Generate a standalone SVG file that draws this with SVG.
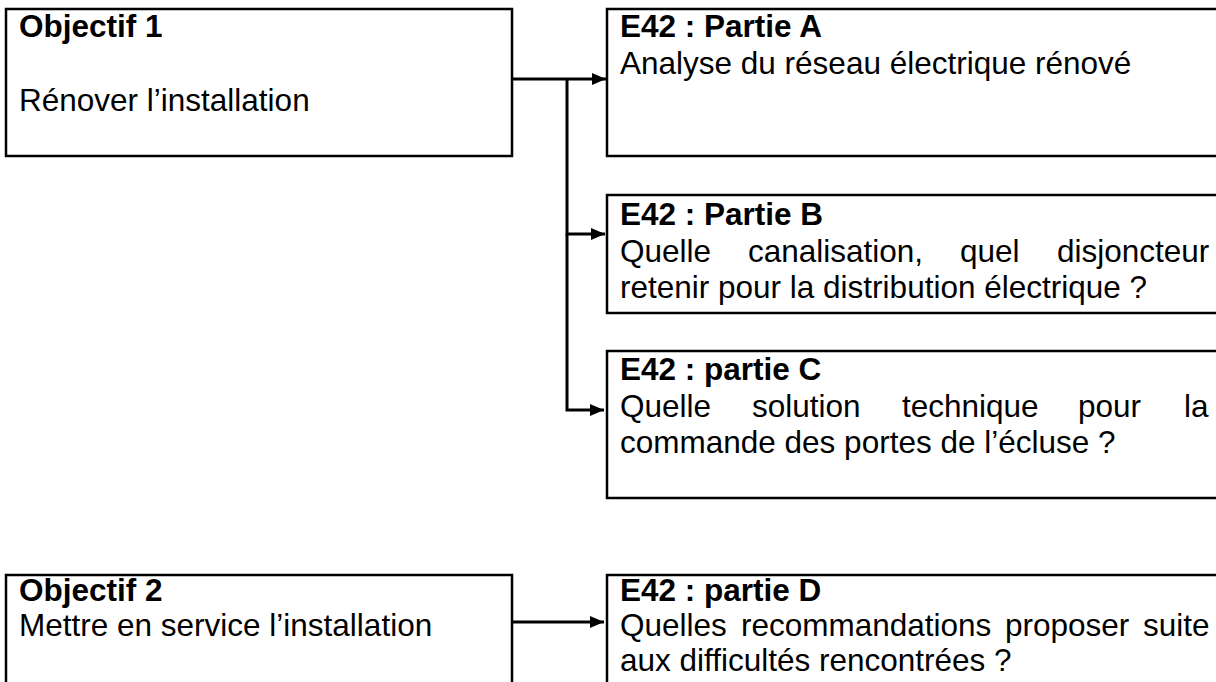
<svg xmlns="http://www.w3.org/2000/svg" width="1216" height="682" viewBox="0 0 1216 682">
  <style>
    .box { fill: #ffffff; stroke: #000000; stroke-width: 2.5; }
    .t { font-family: "Liberation Sans", Arial, sans-serif; font-size: 31.5px; fill: #000000; }
    .b { font-weight: bold; }
    .conn { fill: none; stroke: #000000; stroke-width: 3; }
  </style>
  <defs>
    <marker id="arrow" markerUnits="userSpaceOnUse" markerWidth="16" markerHeight="14" refX="14" refY="6" orient="auto">
      <path d="M0,0 L14,6 L0,12 z" fill="#000000"/>
    </marker>
  </defs>
  <rect width="1216" height="682" fill="#ffffff"/>

  <g id="objectif1">
    <rect class="box" x="6" y="9" width="506" height="147"/>
    <text class="t b" x="19" y="37">Objectif 1</text>
    <text class="t" x="19" y="111">Rénover l’installation</text>
  </g>

  <g id="partieA">
    <rect class="box" x="607" y="9" width="640" height="147"/>
    <text class="t b" x="620" y="37">E42 : Partie A</text>
    <text class="t" x="620" y="74">Analyse du réseau électrique rénové</text>
  </g>

  <g id="partieB">
    <rect class="box" x="607" y="195" width="640" height="118"/>
    <text class="t b" x="620" y="225">E42 : Partie B</text>
    <text class="t" y="262"><tspan x="620">Quelle</tspan><tspan x="748">canalisation,</tspan><tspan x="960">quel</tspan><tspan x="1057">disjoncteur</tspan></text>
    <text class="t" x="620" y="298">retenir pour la distribution électrique ?</text>
  </g>

  <g id="partieC">
    <rect class="box" x="607" y="351" width="640" height="147"/>
    <text class="t b" x="620" y="380">E42 : partie C</text>
    <text class="t" y="417"><tspan x="620">Quelle</tspan><tspan x="752">solution</tspan><tspan x="902">technique</tspan><tspan x="1078">pour</tspan><tspan x="1184">la</tspan></text>
    <text class="t" x="620" y="453">commande des portes de l’écluse ?</text>
  </g>

  <g id="objectif2">
    <rect class="box" x="6" y="575" width="506" height="130"/>
    <text class="t b" x="19" y="601">Objectif 2</text>
    <text class="t" x="19" y="636">Mettre en service l’installation</text>
  </g>

  <g id="partieD">
    <rect class="box" x="607" y="575" width="640" height="130"/>
    <text class="t b" x="620" y="601">E42 : partie D</text>
    <text class="t" y="636"><tspan x="620">Quelles</tspan><tspan x="741">recommandations</tspan><tspan x="1005">proposer</tspan><tspan x="1143">suite</tspan></text>
    <text class="t" x="620" y="671">aux difficultés rencontrées ?</text>
  </g>

  <g id="connectors">
    <path class="conn" d="M512,79 H606" marker-end="url(#arrow)"/>
    <path class="conn" d="M567,79 V234 H605" marker-end="url(#arrow)"/>
    <path class="conn" d="M567,234 V410 H604" marker-end="url(#arrow)"/>
    <path class="conn" d="M512,622 H604" marker-end="url(#arrow)"/>
  </g>
</svg>
